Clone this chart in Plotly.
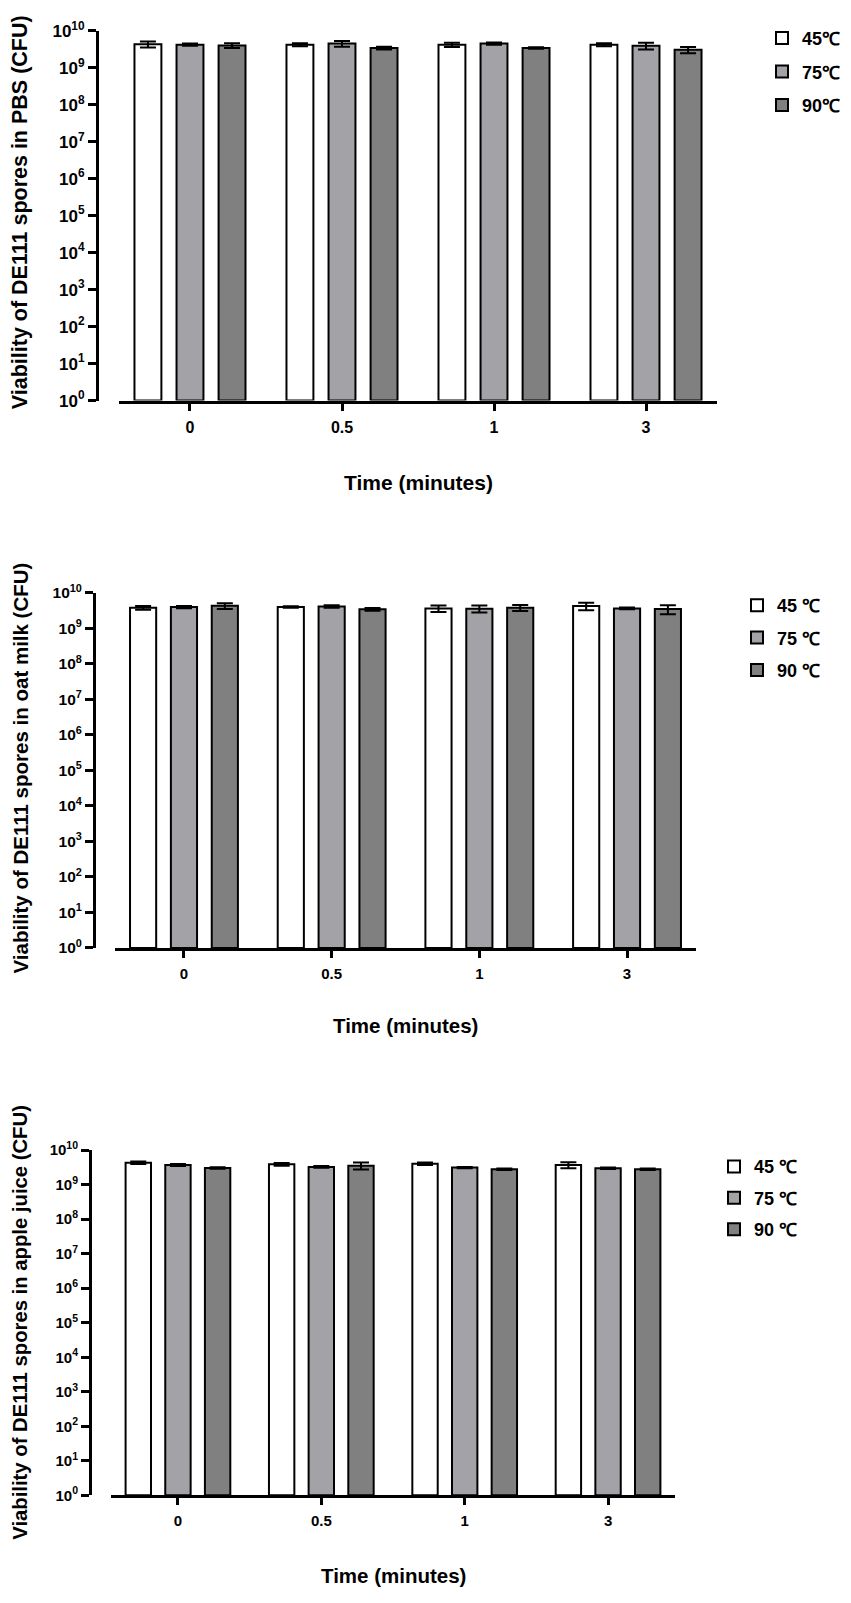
import plotly.graph_objects as go

W, H = 851, 1603

times = ["0", "0.5", "1", "3"]
temps_pbs = ["45℃", "75℃", "90℃"]
temps_other = ["45 ℃", "75 ℃", "90 ℃"]
bar_colors = ["#ffffff", "#a3a3a7", "#808080"]

# PBS
pbs_45 = [4.3e9, 4.2e9, 4.2e9, 4.2e9]
pbs_75 = [4.2e9, 4.5e9, 4.5e9, 3.9e9]
pbs_90 = [4.0e9, 3.4e9, 3.4e9, 3.05e9]
pbs_45_sd = [0.8e9, 0.4e9, 0.55e9, 0.4e9]
pbs_75_sd = [0.3e9, 0.8e9, 0.3e9, 0.8e9]
pbs_90_sd = [0.6e9, 0.3e9, 0.15e9, 0.6e9]

# oat milk
oat_45 = [3.83e9, 4.0e9, 3.67e9, 4.27e9]
oat_75 = [4.0e9, 4.17e9, 3.6e9, 3.67e9]
oat_90 = [4.35e9, 3.44e9, 3.83e9, 3.52e9]
oat_45_sd = [0.45e9, 0.2e9, 0.75e9, 1.0e9]
oat_75_sd = [0.3e9, 0.35e9, 0.8e9, 0.2e9]
oat_90_sd = [0.8e9, 0.3e9, 0.75e9, 1.0e9]

# apple juice
apple_45 = [4.35e9, 3.9e9, 4.07e9, 3.73e9]
apple_75 = [3.73e9, 3.27e9, 3.12e9, 2.99e9]
apple_90 = [3.06e9, 3.56e9, 2.81e9, 2.81e9]
apple_45_sd = [0.35e9, 0.35e9, 0.35e9, 0.75e9]
apple_75_sd = [0.25e9, 0.2e9, 0.15e9, 0.15e9]
apple_90_sd = [0.15e9, 0.8e9, 0.15e9, 0.15e9]

tick_vals = [10 ** i for i in range(11)]
tick_text = ["10<sup>%d</sup>" % i for i in range(11)]

y_titles = ["Viability of DE111 spores in PBS (CFU)",
            "Viability of DE111 spores in oat milk (CFU)",
            "Viability of DE111 spores in apple juice (CFU)"]
x_title = "Time (minutes)"

ARIAL = "Liberation Sans, Arial, sans-serif"

# pixel geometry of each panel
panels = [
    dict(yax=97, x0=119, x1=717, top=19, bot=394, leg_x=762, leg_y=8, gap=7,
         ytitle=(20, 203), ysize=21.5, xtitle=(418, 477), xsize=21,
         ytick=17, xtick=16),
    dict(yax=94, x0=115, x1=696, top=589, bot=949, leg_x=737, leg_y=583, gap=6,
         ytitle=(20, 767), ysize=20.5, xtitle=(405, 1028), xsize=20.5,
         ytick=15.5, xtick=15),
    dict(yax=90, x0=111, x1=675, top=1154, bot=1504, leg_x=714, leg_y=1152, gap=5,
         ytitle=(20, 1329), ysize=20.3, xtitle=(393, 1585), xsize=20.5,
         ytick=15, xtick=15),
]

series = [
    ([pbs_45, pbs_75, pbs_90], [pbs_45_sd, pbs_75_sd, pbs_90_sd], temps_pbs),
    ([oat_45, oat_75, oat_90], [oat_45_sd, oat_75_sd, oat_90_sd], temps_other),
    ([apple_45, apple_75, apple_90], [apple_45_sd, apple_75_sd, apple_90_sd], temps_other),
]

fig = go.Figure()
layout = dict(width=W, height=H, margin=dict(l=0, r=0, t=0, b=0),
              paper_bgcolor="white", plot_bgcolor="white",
              barmode="group", bargap=0.17, bargroupgap=0.36,
              showlegend=True, annotations=[])

for i, (p, (vals, sds, names)) in enumerate(zip(panels, series)):
    n = "" if i == 0 else str(i + 1)
    leg = "legend" + n
    for j in range(3):
        fig.add_trace(go.Bar(
            x=times, y=vals[j], base=1, name=names[j],
            marker=dict(color=bar_colors[j], line=dict(color="black", width=2)),
            error_y=dict(type="data", array=sds[j], color="black", thickness=2, width=8),
            xaxis="x" + n, yaxis="y" + n, legend=leg, legendgroup=leg + str(j),
        ))
    layout["xaxis" + n] = dict(
        domain=[p["x0"] / W, p["x1"] / W], anchor="y" + n, type="category",
        range=[-0.467, 3.467], showline=True, linecolor="black", linewidth=3,
        ticks="outside", ticklen=7, tickwidth=3, tickcolor="black",
        showgrid=False, zeroline=False, ticklabelstandoff=3,
        tickfont=dict(family=ARIAL, size=p["xtick"], color="black", weight="bold"))
    layout["yaxis" + n] = dict(
        domain=[1 - p["bot"] / H, 1 - p["top"] / H], anchor="free", position=p["yax"] / W,
        type="log", range=[0, 10], tickvals=tick_vals, ticktext=tick_text,
        showline=True, linecolor="black", linewidth=3,
        ticks="outside", ticklen=8, tickwidth=3, tickcolor="black",
        showgrid=False, zeroline=False,
        tickfont=dict(family=ARIAL, size=p["ytick"], color="black", weight="bold"))
    layout[leg] = dict(
        x=p["leg_x"] / W, y=1 - p["leg_y"] / H, xanchor="left", yanchor="top",
        bgcolor="rgba(0,0,0,0)", tracegroupgap=p["gap"], itemwidth=30,
        font=dict(family=ARIAL, size=18, color="black", weight="bold"))
    layout["annotations"].append(dict(
        text=y_titles[i], x=p["ytitle"][0] / W, y=1 - p["ytitle"][1] / H,
        xref="paper", yref="paper", xanchor="center", yanchor="middle",
        showarrow=False, textangle=-90,
        font=dict(family=ARIAL, size=p["ysize"], color="black", weight="bold")))
    layout["annotations"].append(dict(
        text=x_title, x=p["xtitle"][0] / W, y=1 - p["xtitle"][1] / H,
        xref="paper", yref="paper", xanchor="center", yanchor="middle",
        showarrow=False,
        font=dict(family=ARIAL, size=p["xsize"], color="black", weight="bold")))

fig.update_layout(**layout)
fig.write_html("out.html", config={"displayModeBar": False},
               post_script="document.body.style.margin='0';")
